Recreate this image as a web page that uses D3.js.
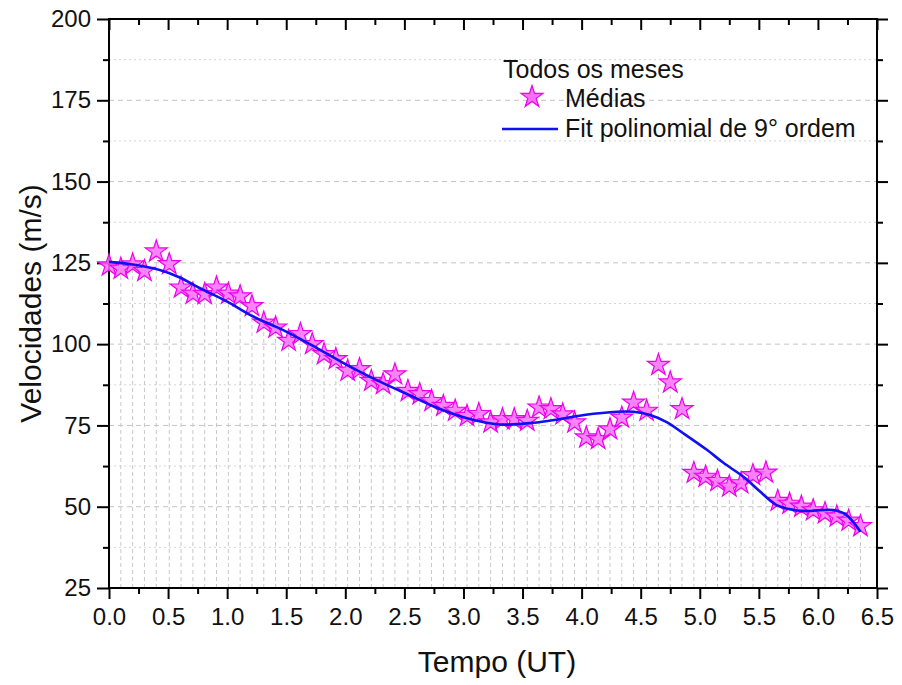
<!DOCTYPE html>
<html>
<head>
<meta charset="utf-8">
<script src="https://cdn.jsdelivr.net/npm/d3@7/dist/d3.min.js"></script>
<style>
  body { margin: 0; background: #fff; }
  text { font-family: "Liberation Sans", Arial, sans-serif; fill: #111; }
</style>
</head>
<body>
<svg id="chart"></svg>
<script>
// tempo (UT) de cada media
var tempos = [0.00, 0.10, 0.20, 0.30, 0.40, 0.51, 0.61, 0.71, 0.81, 0.91,
              1.01, 1.11, 1.21, 1.31, 1.41, 1.52, 1.62, 1.72, 1.82, 1.92,
              2.02, 2.12, 2.22, 2.32, 2.42, 2.53, 2.63, 2.73, 2.83, 2.93,
              3.03, 3.13, 3.23, 3.33, 3.43, 3.54, 3.64, 3.74, 3.84, 3.94,
              4.04, 4.14, 4.24, 4.34, 4.44, 4.55, 4.65, 4.75, 4.85, 4.95,
              5.05, 5.15, 5.25, 5.35, 5.45, 5.56, 5.66, 5.76, 5.86, 5.96,
              6.06, 6.16, 6.26, 6.36];
// velocidades medias (m/s)
var medias = [124.5, 123.5, 124.8, 122.8, 128.8, 124.9, 117.7, 115.8, 115.7, 117.7,
              115.8, 115.0, 112.0, 106.9, 105.4, 101.3, 103.4, 100.3, 97.2, 95.7,
              92.1, 92.6, 89.0, 88.0, 91.0, 85.9, 84.9, 82.8, 81.3, 79.8,
              78.2, 78.8, 76.2, 77.2, 77.2, 76.7, 80.8, 80.3, 78.7, 76.2,
              71.6, 71.1, 74.1, 77.7, 82.3, 79.8, 93.9, 88.5, 80.3, 60.7,
              59.5, 58.2, 56.5, 57.5, 60.0, 60.8, 52.1, 51.2, 50.3, 49.2,
              48.3, 47.3, 46.0, 44.3];
// curva do fit polinomial
var fitT = [0.0, 0.2, 0.43, 0.6, 0.77, 1.0, 1.22, 1.47, 1.76, 2.04, 2.32, 2.55, 2.75,
            3.03, 3.31, 3.59, 3.82, 4.02, 4.30, 4.44, 4.58, 4.72, 4.86, 5.06, 5.20,
            5.37, 5.50, 5.65, 5.80, 5.93, 6.13, 6.24, 6.36];
var fitV = [125.3, 124.5, 122.8, 120.5, 117.2, 113.1, 108.5, 104.4, 98.8, 93.1, 88.0, 84.2, 80.8,
            77.2, 75.3, 75.8, 77.0, 78.2, 79.2, 79.2, 78.2, 76.0, 72.6, 67.5, 63.5,
            59.2, 55.0, 50.5, 49.0, 48.7, 49.0, 47.5, 42.3];
var xTicks = [0, 0.5, 1, 1.5, 2, 2.5, 3, 3.5, 4, 4.5, 5, 5.5, 6, 6.5];
var yTicks = [25, 50, 75, 100, 125, 150, 175, 200];

var W = 902, H = 685;
var pLeft = 109, pRight = 877, pTop = 19, pBottom = 588;

var svg = d3.select('#chart').attr('width', W).attr('height', H);
svg.append('rect').attr('width', W).attr('height', H).attr('fill', '#fff');

var x = d3.scaleLinear().domain([0, 6.5]).range([pLeft, pRight]);
var y = d3.scaleLinear().domain([25, 200]).range([pBottom, pTop]);

// grade horizontal: tracejada nos ticks principais, pontilhada nos secundarios
var minorY = d3.range(37.5, 200, 25);
svg.append('g').selectAll('line').data(yTicks.slice(1, -1)).enter().append('line')
  .attr('x1', pLeft).attr('x2', pRight)
  .attr('y1', function(d) { return y(d); }).attr('y2', function(d) { return y(d); })
  .attr('stroke', '#c4c4c4').attr('stroke-width', 1).attr('stroke-dasharray', '5,4');
svg.append('g').selectAll('line').data(minorY).enter().append('line')
  .attr('x1', pLeft).attr('x2', pRight)
  .attr('y1', function(d) { return y(d); }).attr('y2', function(d) { return y(d); })
  .attr('stroke', '#d6d6d6').attr('stroke-width', 1).attr('stroke-dasharray', '2,3');

// linhas de queda de cada ponto
svg.append('g').selectAll('line').data(tempos).enter().append('line')
  .attr('x1', function(d) { return x(d); }).attr('x2', function(d) { return x(d); })
  .attr('y1', pBottom).attr('y2', function(d, i) { return y(medias[i]); })
  .attr('stroke', '#c8c8c8').attr('stroke-width', 1).attr('stroke-dasharray', '4,3');

// eixos
var fontTick = '24px';
var minorX = d3.range(0.25, 6.5, 0.5);
var xAxis = d3.axisBottom(x).tickValues(xTicks).tickSize(11).tickPadding(8)
  .tickFormat(d3.format('.1f'));
var gx = svg.append('g').attr('transform', 'translate(0,' + pBottom + ')').call(xAxis);
var gxm = svg.append('g').attr('transform', 'translate(0,' + pBottom + ')')
  .call(d3.axisBottom(x).tickValues(minorX).tickSize(6).tickFormat(''));
var gxt = svg.append('g').attr('transform', 'translate(0,' + pTop + ')')
  .call(d3.axisBottom(x).tickValues(xTicks).tickSize(11).tickFormat(''));
var gxtm = svg.append('g').attr('transform', 'translate(0,' + pTop + ')')
  .call(d3.axisBottom(x).tickValues(minorX).tickSize(6).tickFormat(''));

var yAxis = d3.axisLeft(y).tickValues(yTicks).tickSize(12).tickPadding(6);
var gy = svg.append('g').attr('transform', 'translate(' + pLeft + ',0)').call(yAxis);
var gym = svg.append('g').attr('transform', 'translate(' + pLeft + ',0)')
  .call(d3.axisLeft(y).tickValues(minorY).tickSize(6).tickFormat(''));
var gyr = svg.append('g').attr('transform', 'translate(' + pRight + ',0)')
  .call(d3.axisRight(y).tickValues(yTicks).tickSize(11).tickFormat(''));
var gyrm = svg.append('g').attr('transform', 'translate(' + pRight + ',0)')
  .call(d3.axisRight(y).tickValues(minorY).tickSize(6).tickFormat(''));

[gx, gxm, gxt, gxtm, gy, gym, gyr, gyrm].forEach(function(g) {
  g.select('.domain').remove();
  g.selectAll('line').attr('stroke', '#000').attr('stroke-width', 2);
  g.selectAll('text').attr('font-size', fontTick)
    .attr('font-family', '"Liberation Sans", Arial, sans-serif').attr('fill', '#111');
});
gx.selectAll('text').attr('dy', '0.75em');

svg.append('rect')
  .attr('x', pLeft).attr('y', pTop)
  .attr('width', pRight - pLeft).attr('height', pBottom - pTop)
  .attr('fill', 'none').attr('stroke', '#000').attr('stroke-width', 2);

// estrelas
var star = d3.symbol().type(d3.symbolStar).size(150);
var starFill = '#f86ef8', starStroke = '#ec00ec';
svg.append('g').selectAll('path').data(tempos).enter().append('path')
  .attr('d', star)
  .attr('transform', function(d, i) { return 'translate(' + x(d) + ',' + (y(medias[i]) + 1) + ')'; })
  .attr('fill', starFill).attr('fill-opacity', 0.85)
  .attr('stroke', starStroke).attr('stroke-width', 1.2);

// fit (a linha azul passa sobre as estrelas)
var line = d3.line()
  .x(function(d) { return x(d[0]); })
  .y(function(d) { return y(d[1]); })
  .curve(d3.curveCatmullRom);
svg.append('path')
  .datum(fitT.map(function(t, i) { return [t, fitV[i]]; }))
  .attr('d', line)
  .attr('fill', 'none').attr('stroke', '#1010f0').attr('stroke-width', 2.6);

// titulos dos eixos
svg.append('text')
  .attr('x', 497).attr('y', 672)
  .attr('text-anchor', 'middle').attr('font-size', '30px')
  .text('Tempo (UT)');
svg.append('text')
  .attr('transform', 'translate(41,' + ((pTop + pBottom) / 2) + ') rotate(-90)')
  .attr('text-anchor', 'middle').attr('font-size', '30px')
  .text('Velocidades (m/s)');

// legenda
var leg = svg.append('g');
leg.append('text').attr('x', 503).attr('y', 78).attr('font-size', '25px').text('Todos os meses');
leg.append('path').attr('d', star)
  .attr('transform', 'translate(532,97)')
  .attr('fill', starFill).attr('stroke', starStroke).attr('stroke-width', 1.2);
leg.append('text').attr('x', 565).attr('y', 107).attr('font-size', '25px').text('Médias');
leg.append('line').attr('x1', 502).attr('x2', 558).attr('y1', 129).attr('y2', 129)
  .attr('stroke', '#1010f0').attr('stroke-width', 2.6);
leg.append('text').attr('x', 565).attr('y', 137).attr('font-size', '25px').text('Fit polinomial de 9° ordem');
</script>
</body>
</html>
